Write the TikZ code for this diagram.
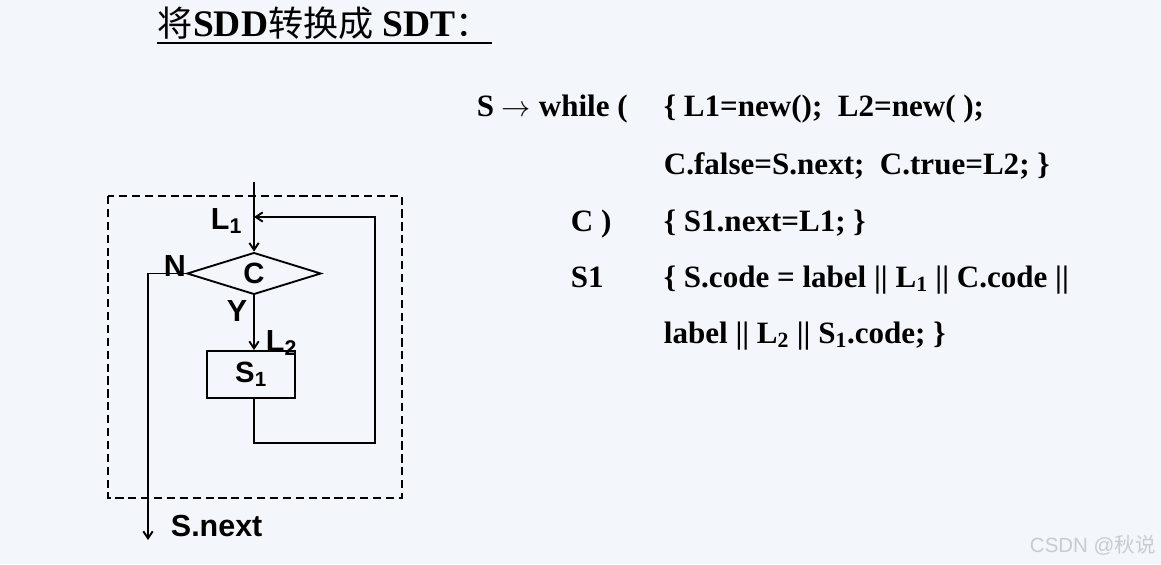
\documentclass[tikz,border=0pt]{standalone}
\usepackage{fontspec}
\setmainfont{Liberation Serif}
\setsansfont{Liberation Sans}
\newfontfamily\cjk{Noto Sans CJK SC}
\usetikzlibrary{shapes.geometric, arrows.meta, positioning}

\definecolor{slidebg}{RGB}{243,246,250}
\definecolor{markgray}{RGB}{200,204,210}

\begin{document}
\begin{tikzpicture}[x=0.03cm, y=-0.03cm,
          > = {Straight Barb[length=6pt,width=8pt]}, % arrow head style
          line width=1.6pt
      ]

      \tikzset{
          decision/.style = {diamond, draw, line width=1.6pt, inner sep=0,
              minimum width=4.02cm, minimum height=1.23cm,
              font=\sffamily\bfseries\fontsize{25}{27}\selectfont},
          block/.style = {rectangle, draw, line width=1.6pt, inner sep=0,
              minimum width=2.64cm, minimum height=1.41cm,
              font=\sffamily\bfseries\fontsize{25}{27}\selectfont},
          tag/.style = {anchor=base west, inner sep=0,
              font=\sffamily\bfseries\fontsize{26}{28}\selectfont},
          rule/.style = {anchor=base west, inner sep=0,
              font=\rmfamily\bfseries\fontsize{26.5}{28}\selectfont}
      }

  % Background and frame
  \fill[slidebg] (0,0) rectangle (1161,564);
  \useasboundingbox (0,0) rectangle (1161,564);

  % Title
  \node[anchor=base west, inner sep=0, font=\fontsize{30}{32}\selectfont] (title) at (157,37)
      {{\cjk 将}{\fontsize{32}{34}\selectfont\textbf{SDD}}{\cjk 转换成}
       {\fontsize{32}{34}\selectfont\textbf{SDT}}{\cjk ：}};
  \draw[line width=1.9pt] (157,43) -- (492,43);

  % Flow chart
  \draw[dashed, line width=1.3pt, dash pattern=on 7pt off 4pt] (108,196) rectangle (402,498);

  \coordinate (in) at (254,182);
  \node[decision] (c) at (254,273.5) {C};
  \node[block] (s1) at (251,374.5) {S\textsubscript{1}};
  \coordinate (back) at (254,217);
  \coordinate (loop) at (375,443);
  \coordinate (out) at (148,540);

  \draw[->] (in) -- (c.north);
  \draw[->] (c.south) -- (c.south |- s1.north);
  \draw[->] (s1.south -| c.south) |- (loop) |- (back);
  \draw[->] (c.west) -| (out);

  \node[tag] (l1) at (210,229) {L\textsubscript{1}};
  \node[tag] (no) at (163,276) {N};
  \node[tag] (yes) at (226,321) {Y};
  \node[tag] (l2) at (265,351) {L\textsubscript{2}};
  \node[tag] (next) at (170,536) {S.next};

  % Translation scheme
  \node[rule] (head) at (476,117) {S $\rightarrow$ while (};
  \node[rule] (act1) at (663,117) {\{ L1=new();\ \ L2=new( );};
  \node[rule] (act2) at (663,174) {C.false=S.next;\ \ C.true=L2; \}};
  \node[rule] (cond) at (570,231) {C )};
  \node[rule] (act3) at (663,231) {\{ S1.next=L1; \}};
  \node[rule] (body) at (570,287) {S1};
  \node[rule] (act4) at (663,287) {\{ S.code = label || L\textsubscript{1} || C.code ||};
  \node[rule] (act5) at (663,343) {label || L\textsubscript{2} || S\textsubscript{1}.code; \}};

  % Watermark
  \node[anchor=base west, inner sep=0, text=markgray, font=\sffamily\fontsize{17.5}{19}\selectfont] (mark) at (1029,552)
      {CSDN @{\cjk 秋说}};
\end{tikzpicture}
\end{document}
